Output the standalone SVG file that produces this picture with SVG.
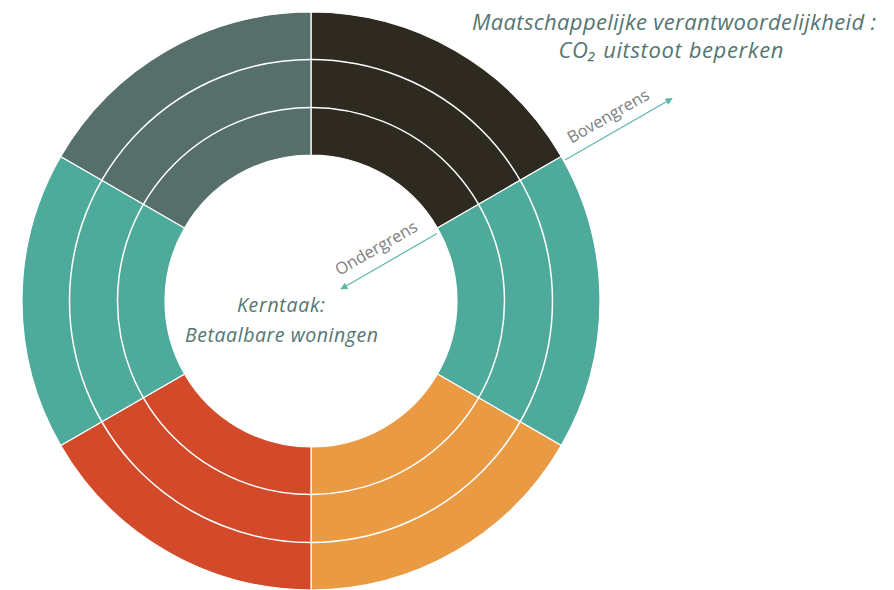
<svg xmlns="http://www.w3.org/2000/svg" width="894" height="590" viewBox="0 0 894 590">
<style>
.seg{stroke:#ffffff;stroke-width:1.2}
.ring{fill:none;stroke:#ffffff;stroke-width:1.5}
.title{font-family:"Open Sans","Noto Sans",sans-serif;font-style:italic;fill:#557572;text-anchor:middle}
.lbl{font-family:"Open Sans","Noto Sans",sans-serif;fill:#808080;font-size:16.5px;text-anchor:middle}
.arr{stroke:#5bb5a8;stroke-width:1.2;fill:none;marker-end:url(#ah)}
</style>
<defs>
<marker id="ah" viewBox="0 0 10 10" refX="9" refY="5" markerWidth="8" markerHeight="7" markerUnits="userSpaceOnUse" orient="auto">
<path d="M0,0 L10,5 L0,10 Z" fill="#5bb5a8"/>
</marker>
</defs>
<rect width="894" height="590" fill="#ffffff"/>
<g id="donut">
<g id="seg-dark"><path class="seg" fill="#2e2a1f" d="M311,12 A289,289 0 0 1 561.28,156.5 L437.44,228 A146,146 0 0 0 311,155 Z"/></g>
<g id="seg-teal-right"><path class="seg" fill="#4eab9c" d="M561.28,156.5 A289,289 0 0 1 561.28,445.5 L437.44,374 A146,146 0 0 0 437.44,228 Z"/></g>
<g id="seg-orange"><path class="seg" fill="#e99a43" d="M561.28,445.5 A289,289 0 0 1 311,590 L311,447 A146,146 0 0 0 437.44,374 Z"/></g>
<g id="seg-red"><path class="seg" fill="#d24a2a" d="M311,590 A289,289 0 0 1 60.72,445.5 L184.56,374 A146,146 0 0 0 311,447 Z"/></g>
<g id="seg-teal-left"><path class="seg" fill="#4eab9c" d="M60.72,445.5 A289,289 0 0 1 60.72,156.5 L184.56,228 A146,146 0 0 0 184.56,374 Z"/></g>
<g id="seg-grey"><path class="seg" fill="#566f6b" d="M60.72,156.5 A289,289 0 0 1 311,12 L311,155 A146,146 0 0 0 184.56,228 Z"/></g>
<circle class="ring" cx="311" cy="301" r="193.5"/>
<circle class="ring" cx="311" cy="301" r="241.5"/>
</g>
<g id="connectors">
<line class="arr" x1="565" y1="160" x2="672" y2="98.5"/>
<line class="arr" x1="437" y1="233.5" x2="341" y2="289"/>
</g>
<g id="label-boven"><text class="lbl" transform="rotate(-30 611 121)" x="611" y="121">Bovengrens</text></g>
<g id="label-onder"><text class="lbl" transform="rotate(-30 379 253)" x="379" y="253">Ondergrens</text></g>
<g id="title-top">
<text class="title" font-size="22" x="674" y="30" textLength="404" lengthAdjust="spacing">Maatschappelijke verantwoordelijkheid :</text>
<text class="title" font-size="22" x="671" y="58" textLength="225" lengthAdjust="spacing">CO₂ uitstoot beperken</text>
</g>
<g id="title-center">
<text class="title" font-size="19.5" x="281" y="312" textLength="88" lengthAdjust="spacing">Kerntaak:</text>
<text class="title" font-size="19.5" x="281.5" y="342" textLength="193" lengthAdjust="spacing">Betaalbare woningen</text>
</g>
</svg>
